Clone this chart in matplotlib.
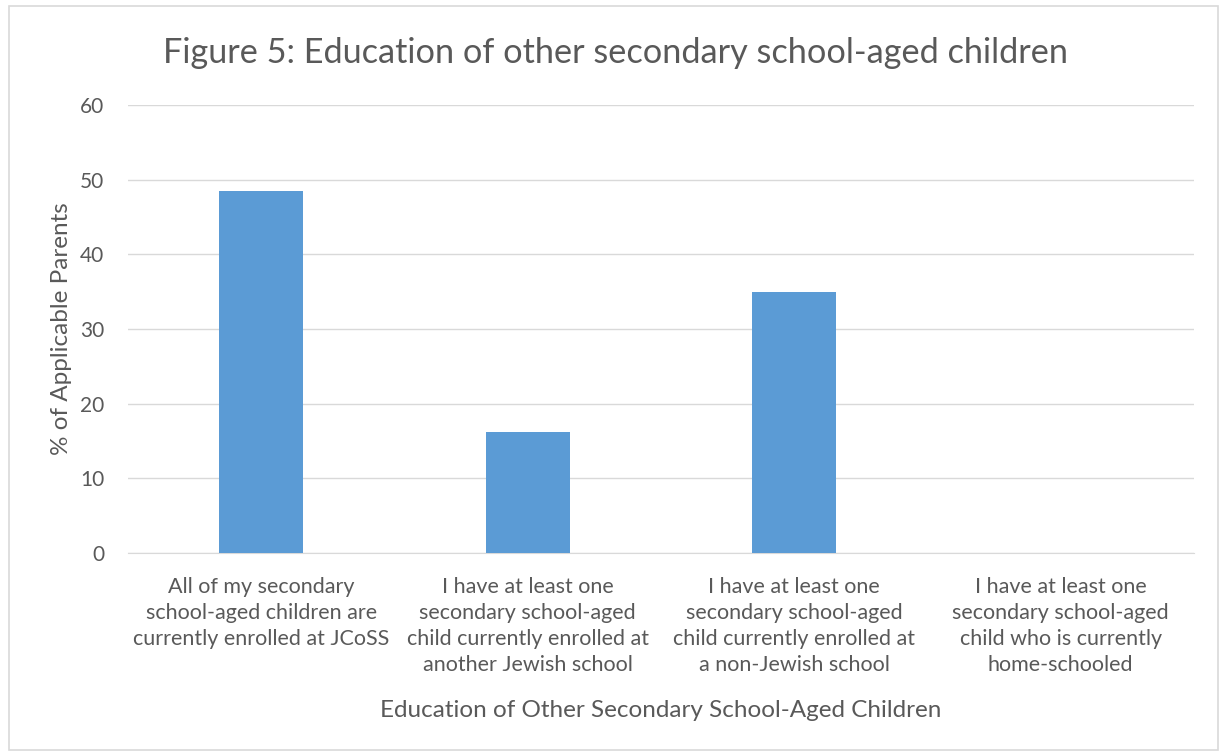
import matplotlib.pyplot as plt
from matplotlib.patches import Rectangle

# chart data
categories = [
    "All of my secondary\nschool-aged children are\ncurrently enrolled at JCoSS",
    "I have at least one\nsecondary school-aged\nchild currently enrolled at\nanother Jewish school",
    "I have at least one\nsecondary school-aged\nchild currently enrolled at\na non-Jewish school",
    "I have at least one\nsecondary school-aged\nchild who is currently\nhome-schooled",
]
percent = [48.5, 16.2, 35.0, 0.0]
y_ticks = [0, 10, 20, 30, 40, 50, 60]

text_col = "#595959"
plt.rcParams['font.family'] = ['Lato', 'DejaVu Sans']

fig = plt.figure(figsize=(12.27, 7.56), dpi=100)
ax = fig.add_axes([0.1043, 0.2685, 0.8688, 0.5925])

x = range(len(categories))
ax.bar(x, percent, width=0.315, color="#5b9bd5", zorder=3)

ax.set_xlim(-0.5, len(categories) - 0.5)
ax.set_ylim(0, 60)
ax.set_yticks(y_ticks)
ax.set_xticks(list(x))
ax.set_xticklabels(categories, fontsize=15.5, color=text_col, linespacing=1.39)
ax.tick_params(axis='y', labelsize=15, labelcolor=text_col, length=0, pad=17)
ax.tick_params(axis='x', length=0, pad=17)
ax.grid(axis='y', color="#d9d9d9", linewidth=1, zorder=0)
for s in ['top', 'right', 'left']:
    ax.spines[s].set_visible(False)
ax.spines['bottom'].set_color("#d9d9d9")

ax.set_ylabel("% of Applicable Parents", fontsize=17.5, color=text_col, labelpad=6)
ax.set_xlabel("Education of Other Secondary School-Aged Children", fontsize=17.5,
              color=text_col, labelpad=18)
fig.text(0.502, 0.930, "Figure 5: Education of other secondary school-aged children",
         ha='center', va='center', fontsize=24.7, color=text_col)

# outer frame
fig.patches.append(Rectangle((0.007, 0.008), 0.986, 0.984, transform=fig.transFigure,
                             fill=False, edgecolor="#d9d9d9", linewidth=1.2))

fig.savefig("out.png", dpi=100)
